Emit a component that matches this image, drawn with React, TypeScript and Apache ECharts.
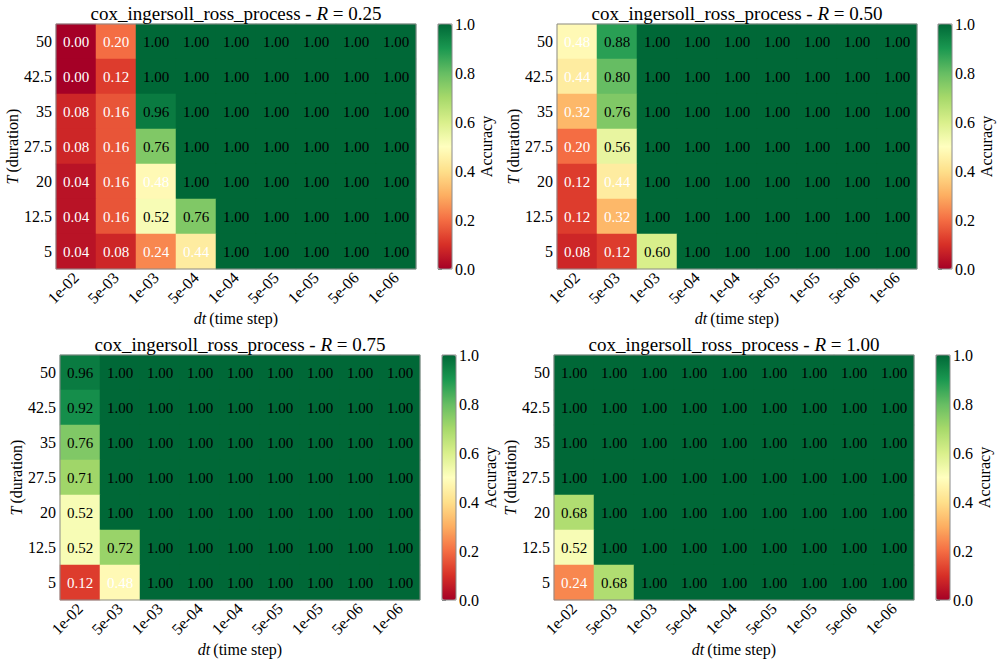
import React, { useEffect, useRef } from 'react';
import * as echarts from 'echarts';

// Time-step categories (x) and durations (y, bottom to top)
const dtLabels = ['1e-02', '5e-03', '1e-03', '5e-04', '1e-04', '5e-05', '1e-05', '5e-06', '1e-06'];
const tLabels = ['5', '12.5', '20', '27.5', '35', '42.5', '50'];
const rLabels = ['0.25', '0.50', '0.75', '1.00'];
const colorbarTicks = [0, 0.2, 0.4, 0.6, 0.8, 1.0];

// Accuracy grids, rows listed from T = 50 (top) down to T = 5 (bottom)
const accR025 = [
  [0.00, 0.20, 1.00, 1.00, 1.00, 1.00, 1.00, 1.00, 1.00],
  [0.00, 0.12, 1.00, 1.00, 1.00, 1.00, 1.00, 1.00, 1.00],
  [0.08, 0.16, 0.96, 1.00, 1.00, 1.00, 1.00, 1.00, 1.00],
  [0.08, 0.16, 0.76, 1.00, 1.00, 1.00, 1.00, 1.00, 1.00],
  [0.04, 0.16, 0.48, 1.00, 1.00, 1.00, 1.00, 1.00, 1.00],
  [0.04, 0.16, 0.52, 0.76, 1.00, 1.00, 1.00, 1.00, 1.00],
  [0.04, 0.08, 0.24, 0.44, 1.00, 1.00, 1.00, 1.00, 1.00],
];
const accR050 = [
  [0.48, 0.88, 1.00, 1.00, 1.00, 1.00, 1.00, 1.00, 1.00],
  [0.44, 0.80, 1.00, 1.00, 1.00, 1.00, 1.00, 1.00, 1.00],
  [0.32, 0.76, 1.00, 1.00, 1.00, 1.00, 1.00, 1.00, 1.00],
  [0.20, 0.56, 1.00, 1.00, 1.00, 1.00, 1.00, 1.00, 1.00],
  [0.12, 0.44, 1.00, 1.00, 1.00, 1.00, 1.00, 1.00, 1.00],
  [0.12, 0.32, 1.00, 1.00, 1.00, 1.00, 1.00, 1.00, 1.00],
  [0.08, 0.12, 0.60, 1.00, 1.00, 1.00, 1.00, 1.00, 1.00],
];
const accR075 = [
  [0.96, 1.00, 1.00, 1.00, 1.00, 1.00, 1.00, 1.00, 1.00],
  [0.92, 1.00, 1.00, 1.00, 1.00, 1.00, 1.00, 1.00, 1.00],
  [0.76, 1.00, 1.00, 1.00, 1.00, 1.00, 1.00, 1.00, 1.00],
  [0.71, 1.00, 1.00, 1.00, 1.00, 1.00, 1.00, 1.00, 1.00],
  [0.52, 1.00, 1.00, 1.00, 1.00, 1.00, 1.00, 1.00, 1.00],
  [0.52, 0.72, 1.00, 1.00, 1.00, 1.00, 1.00, 1.00, 1.00],
  [0.12, 0.48, 1.00, 1.00, 1.00, 1.00, 1.00, 1.00, 1.00],
];
const accR100 = [
  [1.00, 1.00, 1.00, 1.00, 1.00, 1.00, 1.00, 1.00, 1.00],
  [1.00, 1.00, 1.00, 1.00, 1.00, 1.00, 1.00, 1.00, 1.00],
  [1.00, 1.00, 1.00, 1.00, 1.00, 1.00, 1.00, 1.00, 1.00],
  [1.00, 1.00, 1.00, 1.00, 1.00, 1.00, 1.00, 1.00, 1.00],
  [0.68, 1.00, 1.00, 1.00, 1.00, 1.00, 1.00, 1.00, 1.00],
  [0.52, 1.00, 1.00, 1.00, 1.00, 1.00, 1.00, 1.00, 1.00],
  [0.24, 0.68, 1.00, 1.00, 1.00, 1.00, 1.00, 1.00, 1.00],
];
const panelData = [accR025, accR050, accR075, accR100];

// RdYlGn colormap stops
const rdYlGn = ['#a50026', '#d73027', '#f46d43', '#fdae61', '#fee08b', '#ffffbf',
  '#d9ef8b', '#a6d96a', '#66bd63', '#1a9850', '#006837'];

const FONT = 'Liberation Serif';
const FRAME = '#8a8a8a';

// Pixel layout of each panel: heatmap box and colorbar x position
const layout = [
  { left: 56, top: 24, width: 360, height: 245, cbLeft: 438 },
  { left: 557, top: 24, width: 360, height: 245, cbLeft: 938 },
  { left: 60, top: 355, width: 360, height: 245, cbLeft: 442 },
  { left: 554, top: 355, width: 360, height: 245, cbLeft: 936 },
];
const CB_WIDTH = 14;

const serif = (size: number, italic = false) => ({
  fontFamily: FONT, fontSize: size, fontStyle: italic ? 'italic' : 'normal',
  fontWeight: 'normal', color: '#000', align: 'left',
});

function buildOption() {
  const grid: any[] = [];
  const xAxis: any[] = [];
  const yAxis: any[] = [];
  const series: any[] = [];
  const visualMap: any[] = [];
  const title: any[] = [];

  layout.forEach((p, i) => {
    grid.push({
      left: p.left, top: p.top, width: p.width, height: p.height,
      show: true, borderColor: FRAME, borderWidth: 1, backgroundColor: 'transparent', z: 5,
    });
    xAxis.push({
      type: 'category', gridIndex: i, data: dtLabels,
      axisLine: { show: false },
      axisTick: { alignWithLabel: true, length: 4, lineStyle: { color: FRAME } },
      axisLabel: { rotate: 45, fontFamily: FONT, fontSize: 16, color: '#000', margin: 6 },
      splitLine: { show: false },
      name: '{i|dt} {n|(time step)}', nameLocation: 'middle', nameGap: 41,
      nameTextStyle: { rich: { i: serif(16, true), n: serif(16) } },
    });
    yAxis.push({
      type: 'category', gridIndex: i, data: tLabels,
      axisLine: { show: false },
      axisTick: { alignWithLabel: true, length: 4, lineStyle: { color: FRAME } },
      axisLabel: { fontFamily: FONT, fontSize: 16, color: '#000', margin: 4 },
      splitLine: { show: false },
      name: '{i|T} {n|(duration)}', nameLocation: 'middle', nameGap: 36, nameRotate: 90,
      nameTextStyle: { rich: { i: serif(16, true), n: serif(16) } },
    });

    const rows = panelData[i];
    const data: any[] = [];
    rows.forEach((row, r) => {
      const yIdx = tLabels.length - 1 - r;
      row.forEach((v, c) => data.push([c, yIdx, v]));
    });
    series.push({
      type: 'heatmap', xAxisIndex: i, yAxisIndex: i, data,
      itemStyle: { borderWidth: 0 },
      label: {
        show: true,
        formatter: (prm: any) => {
          const v = prm.value[2];
          return (v < 0.5 ? '{w|' : '{b|') + v.toFixed(2) + '}';
        },
        rich: {
          w: { color: '#fff', fontFamily: FONT, fontSize: 15 },
          b: { color: '#000', fontFamily: FONT, fontSize: 15 },
        },
      },
      emphasis: { disabled: true },
    });

    visualMap.push({
      type: 'continuous', seriesIndex: i, min: 0, max: 1, dimension: 2,
      orient: 'vertical', left: p.cbLeft, top: p.top, padding: 0,
      itemWidth: CB_WIDTH, itemHeight: p.height, calculable: false, realtime: false,
      inRange: { color: rdYlGn }, hoverLink: false,
    });

    title.push({
      text: `{n|cox_ingersoll_ross_process - }{i|R}{n| = ${rLabels[i]}}`,
      left: p.left + p.width / 2, top: p.top - 20, textAlign: 'center', padding: 0,
      textStyle: { fontFamily: FONT, fontSize: 19, fontWeight: 'normal', rich: { n: serif(19), i: serif(19, true) } },
    });
  });

  // Colorbar axes (ticks, labels and frame) drawn over the visualMap gradient
  layout.forEach((p, i) => {
    const gi = layout.length + i;
    grid.push({
      left: p.cbLeft, top: p.top, width: CB_WIDTH, height: p.height,
      show: true, borderColor: FRAME, borderWidth: 1, backgroundColor: 'transparent', z: 6,
    });
    xAxis.push({ type: 'value', gridIndex: gi, show: false, min: 0, max: 1 });
    yAxis.push({
      type: 'value', gridIndex: gi, position: 'right', min: 0, max: 1, interval: 0.2,
      axisLine: { show: false },
      axisTick: { show: true, length: 4, lineStyle: { color: FRAME } },
      axisLabel: {
        fontFamily: FONT, fontSize: 16, color: '#000', margin: 3,
        formatter: (v: number) => (colorbarTicks.some((t) => Math.abs(t - v) < 1e-9) ? v.toFixed(1) : ''),
      },
      splitLine: { show: false },
      name: 'Accuracy', nameLocation: 'middle', nameGap: 24, nameRotate: 90,
      nameTextStyle: { fontFamily: FONT, fontSize: 16, color: '#000' },
    });
  });

  return {
    animation: false, backgroundColor: '#fff', textStyle: { fontFamily: FONT },
    title, grid, xAxis, yAxis, visualMap, series,
  };
}

export default function App() {
  const ref = useRef<HTMLDivElement>(null);
  useEffect(() => {
    if (!ref.current) return;
    const chart = echarts.init(ref.current, undefined, { renderer: 'svg' });
    chart.setOption(buildOption() as any);
    return () => chart.dispose();
  }, []);
  return (
    <div
      ref={ref}
      style={{ position: 'absolute', left: 0, top: 0, width: 1000, height: 665, background: '#fff' }}
    />
  );
}
